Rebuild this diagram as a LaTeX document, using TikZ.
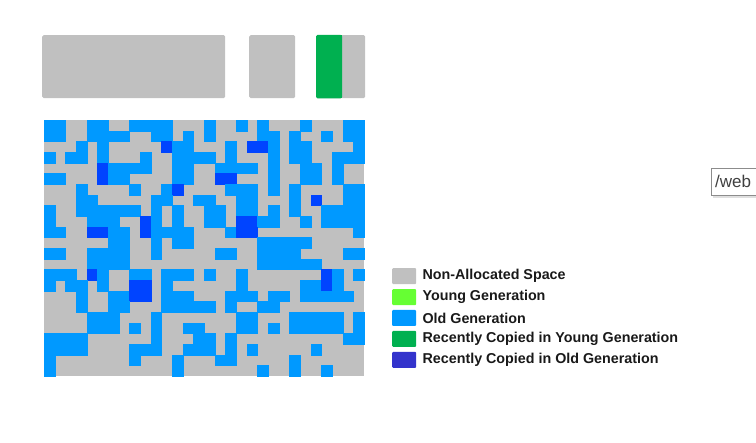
\documentclass[tikz,border=0pt]{standalone}
\usepackage{fontspec}
\setmainfont{Liberation Sans}
\usetikzlibrary{positioning, shadows}
\definecolor{HeapGray}{HTML}{C0C0C0}
\definecolor{HeapYoung}{HTML}{66FF33}
\definecolor{HeapOld}{HTML}{0099FF}
\definecolor{HeapDeep}{HTML}{0044FF}
\definecolor{HeapCopyYoung}{HTML}{00B050}
\definecolor{HeapCopyOld}{HTML}{3333CC}
\tikzset{
    % heap region bars
    region/.style={
        rectangle,
        fill=HeapGray,
        rounded corners=1.5pt,
        inner sep=0pt,
        anchor=north west
    },
    % grid cells
    cell g/.style={},
    cell b/.style={fill=HeapOld, draw=HeapOld, line width=0.2pt},
    cell d/.style={fill=HeapDeep, draw=HeapDeep, line width=0.2pt},
    % legend
    swatch/.style={
        rectangle,
        minimum width=24pt,
        minimum height=16pt,
        inner sep=0pt,
        rounded corners=1pt
    },
    legend text/.style={
        font=\fontsize{14.3}{16}\selectfont\bfseries,
        text=black!90,
        inner sep=0pt,
        anchor=west
    }
}

\begin{document}
\begin{tikzpicture}[x=1pt, y=-1pt]
        \useasboundingbox (0,0) rectangle (756,443);
        \path[clip] (0,0) rectangle (756,443);

        % Regions at the top
        \node[region, minimum width=183pt, minimum height=63pt] (eden) at (42,35) {};
        \node[region, minimum width=46pt, minimum height=63pt] (survivor) at (249,35) {};
        \node[region, minimum width=49pt, minimum height=63pt] (tospace) at (316,35) {};
        \fill[HeapCopyYoung, rounded corners=1.5pt] (tospace.north west) rectangle ([xshift=26pt]tospace.south west);
        \fill[HeapCopyYoung] ([xshift=20pt]tospace.north west) rectangle ([xshift=26pt]tospace.south west);

        % Old generation grid
        \node[rectangle, fill=HeapGray, inner sep=0pt, minimum width=320pt, minimum height=256pt, anchor=north west] (heap) at (44,120) {};
        \foreach \cells [count=\r from 0] in {
            {b,b,g,g,b,b,g,g,b,b,b,b,g,g,g,b,g,g,b,g,b,g,g,g,b,g,g,g,b,b},
            {b,b,g,g,b,b,b,b,g,g,b,b,g,b,g,b,g,g,g,g,b,b,g,b,g,g,b,g,b,b},
            {g,g,g,b,g,b,g,g,g,g,g,d,b,b,g,g,g,b,g,d,d,b,g,b,b,g,g,g,g,b},
            {b,g,b,b,g,b,g,g,g,b,g,g,b,b,b,b,g,b,g,g,g,b,g,b,b,g,g,b,b,b},
            {g,g,g,g,g,d,b,b,b,b,g,g,b,b,g,g,b,b,b,b,g,b,g,g,b,b,g,b,g,g},
            {b,b,g,g,g,d,b,b,g,g,g,g,b,b,g,g,d,d,g,g,g,b,g,g,b,b,g,b,g,g},
            {g,g,g,b,g,g,g,g,b,g,g,b,d,g,g,g,g,b,b,b,g,b,g,b,g,g,g,g,b,b},
            {g,g,g,b,b,g,g,g,g,g,b,b,g,g,b,b,g,g,b,b,g,g,g,b,g,d,g,g,b,b},
            {b,g,g,b,b,b,b,b,b,g,b,g,b,g,g,b,b,g,b,b,g,b,g,b,g,g,b,b,b,b},
            {b,g,g,g,b,b,b,g,g,d,b,g,b,g,g,b,b,g,d,d,b,b,g,g,b,g,b,b,b,b},
            {b,b,g,g,d,d,b,b,g,d,b,b,b,b,g,g,g,b,d,d,g,g,g,g,g,g,g,g,g,b},
            {g,g,g,g,g,g,b,b,g,g,b,g,b,b,g,g,g,g,g,g,b,b,b,b,b,g,g,g,g,g},
            {b,b,g,g,b,b,b,b,g,g,b,g,g,g,g,g,b,b,g,g,b,b,b,b,g,g,g,g,b,b},
            {g,g,g,g,b,b,b,b,g,g,g,g,g,g,g,g,g,g,g,g,b,b,b,b,b,b,g,g,g,g},
            {b,b,b,g,d,b,g,g,b,b,g,b,b,b,g,b,g,g,b,g,g,g,g,g,g,g,d,b,g,b},
            {b,g,b,b,g,b,g,g,d,d,g,b,g,g,g,g,g,g,b,g,g,g,g,g,b,b,d,b,g,g},
            {g,g,g,b,g,g,b,b,d,d,g,b,b,b,g,g,g,b,b,b,g,b,b,g,b,b,b,b,b,g},
            {g,g,g,b,g,g,b,b,g,g,g,b,b,b,b,b,g,b,g,g,b,b,g,g,g,g,g,g,g,g},
            {g,g,g,g,b,b,b,g,g,g,b,g,g,g,g,g,g,g,b,b,g,g,g,b,b,b,b,b,g,b},
            {g,g,g,g,b,b,b,g,b,g,b,g,g,b,b,g,g,g,b,b,g,b,g,b,b,b,b,b,g,b},
            {b,b,b,b,g,g,g,g,g,g,b,g,g,g,b,b,g,b,g,g,g,g,g,g,g,g,g,g,b,b},
            {b,b,b,b,g,g,g,g,b,b,b,g,g,b,b,b,g,b,g,b,g,g,g,g,g,b,g,g,g,g},
            {b,g,g,g,g,g,g,g,b,g,g,g,b,g,g,g,b,b,g,g,g,g,g,b,g,g,g,g,g,g},
            {b,g,g,g,g,g,g,g,g,g,g,g,b,g,g,g,g,g,g,g,b,g,g,b,g,g,b,g,g,g}} {
            \foreach \k [count=\c from 0] in \cells {
                \path[cell \k] ({44+\c*32/3},{120+\r*32/3}) rectangle ++(32/3,32/3);
            }
        }

        % Legend
        \node[swatch, fill=HeapGray, anchor=north west] (keyfree) at (392,268) {};
        \node[swatch, fill=HeapYoung, below=4.5pt of keyfree] (keyyoung) {};
        \node[swatch, fill=HeapOld, below=4.5pt of keyyoung] (keyold) {};
        \node[swatch, fill=HeapCopyYoung, below=4.5pt of keyold] (keycopyyoung) {};
        \node[swatch, fill=HeapCopyOld, below=4.5pt of keycopyyoung] (keycopyold) {};
        \node[legend text, right=6pt of keyfree] (txtfree) {Non-Allocated Space};
        \node[legend text, right=6pt of keyyoung] (txtyoung) {Young Generation};
        \node[legend text, right=6pt of keyold] (txtold) {Old Generation};
        \node[legend text, right=6pt of keycopyyoung] (txtcopyyoung) {Recently Copied in Young Generation};
        \node[legend text, right=6pt of keycopyold] (txtcopyold) {Recently Copied in Old Generation};

        % Tooltip at the edge
        \node[rectangle, draw=black!45, fill=white, drop shadow={shadow xshift=2pt, shadow yshift=-3pt, fill=black!25},
              minimum width=70pt, minimum height=27pt, text width=62pt, align=left, inner sep=4pt,
              font=\fontsize{17}{19}\selectfont, text=black!75, anchor=north west] (tip) at (711,168) {/web};
    \end{tikzpicture}
\end{document}
